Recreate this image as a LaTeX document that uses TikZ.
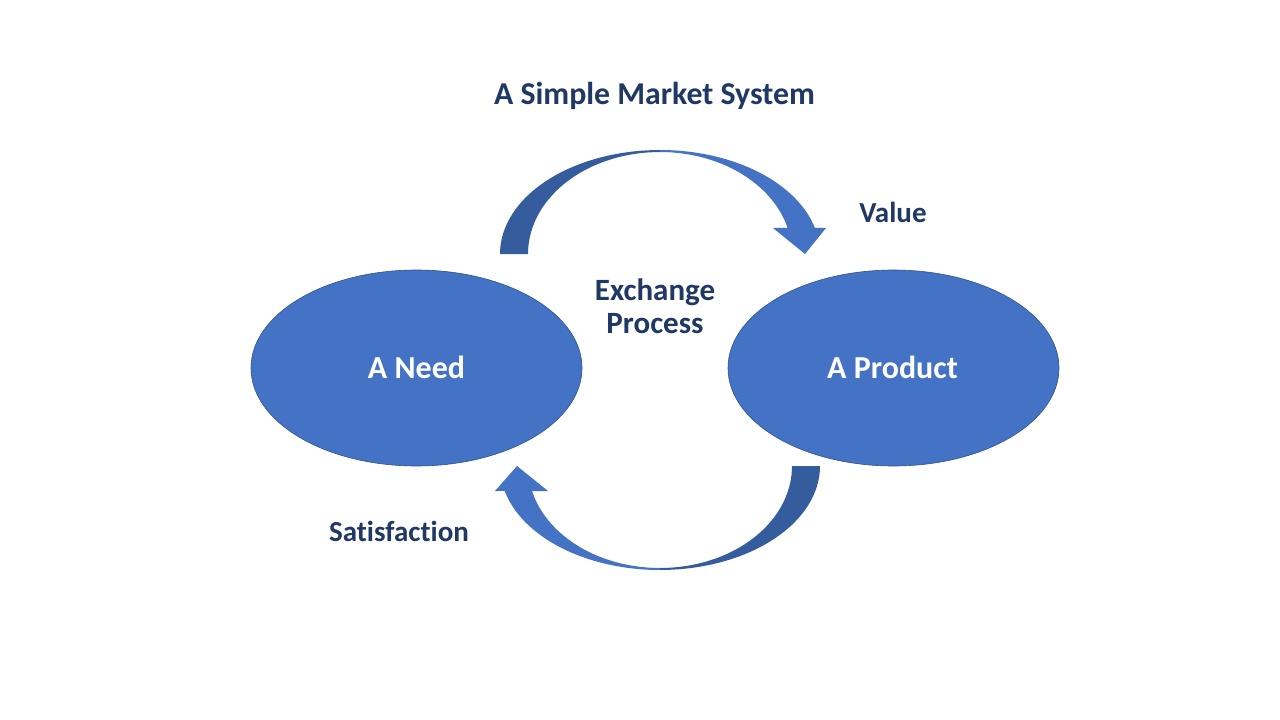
\documentclass[tikz,border=0pt]{standalone}
\usepackage{fontspec}
\setmainfont{Carlito}[Ligatures=NoCommon]
\usetikzlibrary{shapes.geometric}
\definecolor{txt}{HTML}{203864}
\definecolor{fillblue}{HTML}{4472C4}
\definecolor{edgeblue}{HTML}{2F528F}
\definecolor{darkarrow}{HTML}{355D9E}
\tikzset{
  bubble/.style={ellipse, draw=edgeblue, line width=0.6pt, fill=fillblue,
    minimum width=331pt, minimum height=196pt, inner sep=0pt},
  bubbletext/.style={text=white, font=\bfseries\fontsize{32}{32}\selectfont, anchor=base, inner sep=0pt},
  label/.style={text=txt, font=\bfseries\fontsize{29}{29}\selectfont, anchor=base, inner sep=0pt},
  biglabel/.style={text=txt, font=\bfseries\fontsize{31}{31}\selectfont, anchor=base, inner sep=0pt},
  titletext/.style={text=txt, font=\bfseries\fontsize{31.8}{31.8}\selectfont, anchor=base, inner sep=0pt},
  lightpart/.style={fill=fillblue, draw=none},
  darkpart/.style={fill=darkarrow, draw=none}
}
\begin{document}
\begin{tikzpicture}[x=1pt,y=-1pt]
\useasboundingbox (0,0) rectangle (1280,720);
\fill[white] (0,0) rectangle (1280,720);

% Title
\node[titletext] (title) at (654.5,104) {A Simple Market System};

% Ellipses
\node[bubble] (need) at (416.5,368) {};
\node[bubble] (product) at (893.5,368) {};
\node[bubbletext] (needtext) at (416.5,378) {A Need};
\node[bubbletext] (producttext) at (892.5,378) {A Product};

% Top curved arrow
\path[darkpart] plot[variable=\t, domain=180:270, samples=40] ({660+160*cos(\t)},{254+104*sin(\t)})
  -- plot[variable=\t, domain=270:180, samples=40] ({660+132*cos(\t)},{254+102*sin(\t)}) -- cycle;
\path[lightpart] plot[variable=\t, domain=270:345.5, samples=40] ({660+160*cos(\t)},{254+104*sin(\t)})
  -- (826,228) -- (805,254) -- (773,228)
  -- plot[variable=\t, domain=345.2:270, samples=40] ({660+132*cos(\t)},{254+102*sin(\t)}) -- cycle;

% Bottom curved arrow
\path[darkpart] plot[variable=\t, domain=0:90, samples=40] ({660+160*cos(\t)},{466+104*sin(\t)})
  -- plot[variable=\t, domain=90:0, samples=40] ({660+132*cos(\t)},{466+102*sin(\t)}) -- cycle;
\path[lightpart] plot[variable=\t, domain=90:166.1, samples=40] ({660+160*cos(\t)},{466+104*sin(\t)})
  -- (495,491) -- (517,466) -- (548,491)
  -- plot[variable=\t, domain=165.8:90, samples=40] ({660+132*cos(\t)},{466+102*sin(\t)}) -- cycle;

% Labels
\node[label] (value) at (893,222) {Value};
\node[biglabel] (exchange) at (655,300) {Exchange};
\node[biglabel] (process) at (655,333) {Process};
\node[label] (satisfaction) at (399,541) {Satisfaction};
\end{tikzpicture}
\end{document}
